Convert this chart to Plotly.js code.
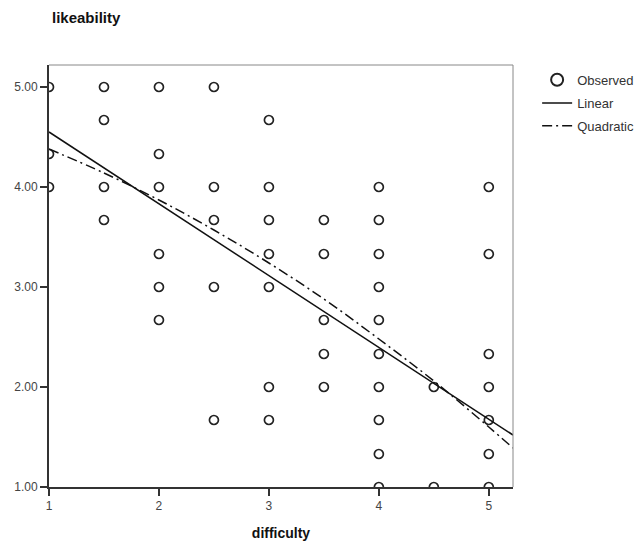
<!DOCTYPE html>
<html>
<head>
<meta charset="utf-8">
<script src="https://cdn.plot.ly/plotly-3.0.1.min.js"></script>
<style>
  html, body { margin: 0; padding: 0; background: #ffffff; }
  #chart { width: 640px; height: 550px; }
</style>
</head>
<body>
<div id="chart"></div>
<script>
// Observed points (difficulty, likeability)
const obsDifficulty = [
  1, 1, 1,
  1.5, 1.5, 1.5, 1.5,
  2, 2, 2, 2, 2, 2,
  2.5, 2.5, 2.5, 2.5, 2.5,
  3, 3, 3, 3, 3, 3, 3,
  3.5, 3.5, 3.5, 3.5, 3.5,
  4, 4, 4, 4, 4, 4, 4, 4, 4, 4,
  4.5, 4.5,
  5, 5, 5, 5, 5, 5, 5
];
const obsLikeability = [
  5.00, 4.33, 4.00,
  5.00, 4.67, 4.00, 3.67,
  5.00, 4.33, 4.00, 3.33, 3.00, 2.67,
  5.00, 4.00, 3.67, 3.00, 1.67,
  4.67, 4.00, 3.67, 3.33, 3.00, 2.00, 1.67,
  3.67, 3.33, 2.67, 2.33, 2.00,
  4.00, 3.67, 3.33, 3.00, 2.67, 2.33, 2.00, 1.67, 1.33, 1.00,
  2.00, 1.00,
  4.00, 3.33, 2.33, 2.00, 1.67, 1.33, 1.00
];

// Fitted lines
const linearX = [1, 5.22];
const linearY = [4.55, 1.52];
const quadX = [1, 1.5, 2, 2.5, 3, 3.5, 4, 4.5, 5, 5.22];
const quadY = [4.38, 4.14, 3.87, 3.57, 3.24, 2.88, 2.48, 2.06, 1.60, 1.39];

const xTickVals = [1, 2, 3, 4, 5];
const xTickText = ['1', '2', '3', '4', '5'];
const yTickVals = [1, 2, 3, 4, 5];
const yTickText = ['1.00', '2.00', '3.00', '4.00', '5.00'];

const FONT = 'Liberation Sans, Arial, sans-serif';
const NARROW = 'Liberation Sans Narrow, Liberation Sans, Arial, sans-serif';

const traces = [
  {
    x: obsDifficulty, y: obsLikeability,
    type: 'scatter', mode: 'markers', name: 'Observed',
    marker: { symbol: 'circle-open', size: 9, color: '#222222', line: { width: 1.7, color: '#222222' } },
    cliponaxis: true,
    legend: 'legend'
  },
  {
    x: linearX, y: linearY,
    type: 'scatter', mode: 'lines', name: 'Linear',
    line: { color: '#111111', width: 1.5 },
    legend: 'legend2'
  },
  {
    x: quadX, y: quadY,
    type: 'scatter', mode: 'lines', name: 'Quadratic', line: { color: '#111111', width: 1.5, dash: '10px,4px,2px,4px', shape: 'spline' },
    legend: 'legend3'
  }
];

const legendBase = {
  xref: 'paper', yref: 'paper', xanchor: 'left', yanchor: 'middle',
  bgcolor: 'rgba(0,0,0,0)', borderwidth: 0,
  font: { family: NARROW, size: 13, color: '#333333' },
  tracegroupgap: 0
};

const layout = {
  width: 640, height: 550,
  paper_bgcolor: '#ffffff', plot_bgcolor: '#ffffff',
  margin: { l: 49, r: 127, t: 65, b: 63, autoexpand: false },
  font: { family: FONT, color: '#333333' },
  title: {
    text: '<b>likeability</b>',
    font: { family: FONT, size: 15, color: '#111111' },
    xref: 'container', yref: 'container',
    x: 52 / 640, xanchor: 'left',
    y: 1 - 18 / 550, yanchor: 'middle'
  },
  xaxis: {
    range: [1, 5.22],
    tickvals: xTickVals, ticktext: xTickText,
    ticks: 'outside', ticklen: 7, tickwidth: 1.5, tickcolor: '#333333',
    tickfont: { family: NARROW, size: 12, color: '#444444' },
    showgrid: false, zeroline: false,
    showline: true, linecolor: '#333333', linewidth: 2,
    title: { text: '<b>difficulty</b>', font: { family: FONT, size: 14, color: '#111111' }, standoff: 16 }
  },
  yaxis: {
    range: [1, 5.22],
    tickvals: yTickVals, ticktext: yTickText,
    ticks: 'outside', ticklen: 7, tickwidth: 1.5, tickcolor: '#333333',
    tickfont: { family: NARROW, size: 12, color: '#444444' },
    showgrid: false, zeroline: false,
    showline: true, linecolor: '#333333', linewidth: 2
  },
  shapes: [
    { type: 'line', xref: 'paper', yref: 'paper', x0: 0, x1: 1, y0: 1, y1: 1, line: { color: '#888888', width: 1 } },
    { type: 'line', xref: 'paper', yref: 'paper', x0: 1, x1: 1, y0: 0, y1: 1, line: { color: '#888888', width: 1 } }
  ],
  showlegend: true,
  legend: Object.assign({}, legendBase, { x: 1.052, y: 0.965, itemsizing: 'constant' }),
  legend2: Object.assign({}, legendBase, { x: 1.052, y: 0.91 }),
  legend3: Object.assign({}, legendBase, { x: 1.052, y: 0.856 })
};

Plotly.newPlot('chart', traces, layout, { displayModeBar: false, staticPlot: true });
</script>
</body>
</html>
